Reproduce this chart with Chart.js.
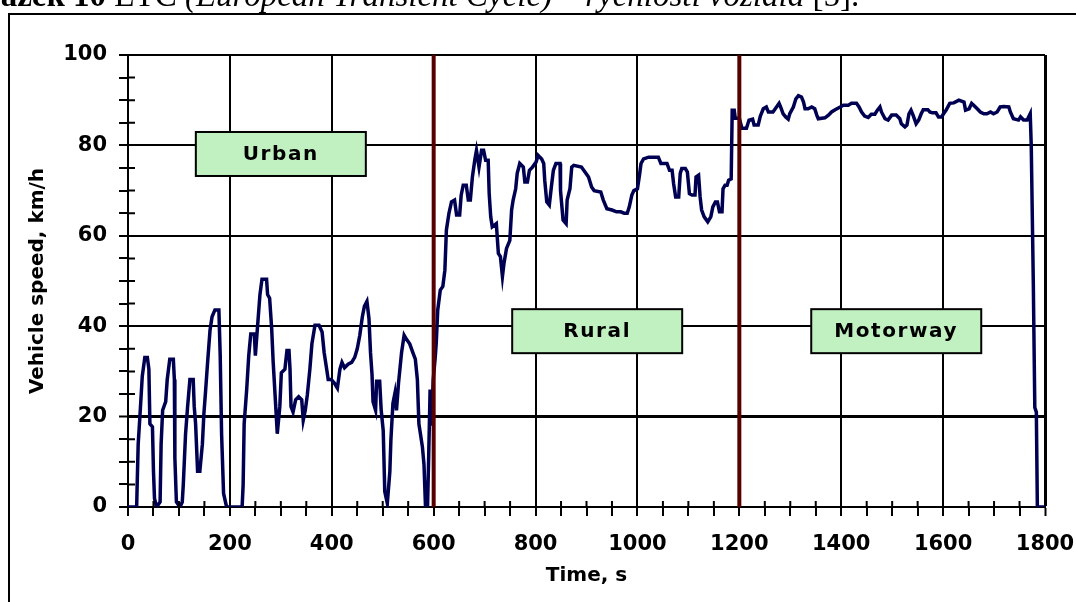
<!DOCTYPE html>
<html>
<head>
<meta charset="utf-8">
<title>ETC vehicle speed</title>
<script src="https://cdn.jsdelivr.net/npm/chart.js@4.4.1/dist/chart.umd.min.js"></script>
<style>
  html, body { margin: 0; padding: 0; background: #fff; overflow: hidden; }
  #wrap { position: relative; width: 1076px; height: 602px; overflow: hidden; }
  #speed-chart { position: absolute; left: 0; top: 0; }
  #frame {
    position: absolute; left: 8px; top: 13px; width: 1100px; height: 700px;
    border-left: 2px solid #000; border-top: 2px solid #000;
  }
  #caption {
    position: absolute; left: -58px; top: -21px; white-space: nowrap;
    font-family: "Liberation Serif", serif; font-size: 33px; line-height: 33px; color: #000;
  }
</style>
</head>
<body>
<div id="wrap">
  <canvas id="speed-chart" width="1076" height="602"></canvas>
  <div id="frame"></div>
  <div id="caption"><b>Obrázek 10</b> ETC <i>(European Transient Cycle)</i> – <i>rychlosti vozidla</i> [5].</div>
</div>
<script>
// time, s
const times = [
  0, 17, 18, 20, 23.5, 28, 33, 38, 41, 43, 48, 50, 52, 56, 63, 65, 68, 74, 77, 82,
  89, 91, 92, 95, 102, 106.5, 108.5, 113, 117, 121.5, 128, 130, 132.7, 136.6, 141, 146, 149, 152, 156, 161,
  165, 170.6, 178.4, 181, 183.7, 187.6, 193.5, 224, 226, 228, 233, 237, 241, 248, 250, 254, 259, 263, 272, 274,
  278, 282, 285, 290, 293, 298, 301, 308, 312, 316, 318, 320, 324, 329, 335, 341, 344, 348, 352, 357,
  361, 367, 375, 381, 385, 390, 393, 399, 405, 411, 416, 420, 425, 432, 439, 445, 450, 455, 460, 464,
  469, 473, 476, 479, 481, 486, 488, 494, 497, 501, 504, 509, 514, 516, 520, 524, 527, 531, 537, 542,
  546, 553, 559, 564, 568, 571, 574, 578, 581, 584, 588, 590, 593, 596, 599, 603, 605, 608, 613, 618,
  622, 625, 630, 635, 641, 645, 651, 654, 658, 664, 668, 672, 676, 681, 684, 689, 694, 698, 702, 707,
  709, 712, 715, 723, 727, 731, 735, 738, 743, 749.5, 753, 756, 761, 764, 769, 776, 779, 784, 788, 794,
  801, 805, 812, 816, 818, 822, 827, 831, 835, 840, 848, 849, 854, 860, 862, 867.5, 871, 875, 890, 897,
  904, 910, 915, 928, 933, 940, 950, 959, 967, 974, 980, 984, 989, 993, 1000, 1004, 1007, 1012, 1022, 1041,
  1046, 1058, 1063, 1068, 1071, 1075, 1081, 1084, 1087, 1094, 1098, 1102, 1107, 1113, 1115, 1120, 1123, 1126, 1131, 1138,
  1144, 1148, 1153, 1157, 1161, 1166, 1168, 1172, 1176, 1179, 1184, 1186, 1190, 1192, 1200, 1205, 1214, 1219, 1226, 1229,
  1237, 1241, 1247, 1253, 1257, 1266, 1273, 1278, 1281, 1286, 1291, 1296, 1299, 1306, 1311, 1316, 1322, 1326, 1329, 1335,
  1342, 1348, 1352, 1355, 1368, 1375, 1381, 1388, 1398, 1404, 1414, 1420, 1430, 1435, 1440, 1446, 1453, 1459, 1466, 1471,
  1476, 1479, 1486, 1492, 1499, 1508, 1515, 1518, 1525, 1529, 1533, 1537, 1541, 1547, 1552, 1557, 1561, 1570, 1574, 1579,
  1586, 1591, 1597, 1602, 1606, 1613, 1621, 1631, 1641, 1644, 1651, 1656, 1660, 1667, 1673, 1680, 1686, 1693, 1699, 1706,
  1712, 1719, 1729, 1732, 1738, 1748, 1752, 1758, 1765, 1771, 1773, 1777, 1780, 1783, 1785, 1800
];

// vehicle speed, km/h
const speeds = [
  0, 0, 4.9, 13.9, 20.3, 28.9, 33.1, 33.1, 30.5, 18.4, 17.7, 7.9, 1.9, 0, 1.1, 13.9, 21.4, 23.3, 28.2, 32.7,
  32.7, 28.2, 10.9, 1.1, 0, 1.1, 4.9, 16.2, 22.2, 28.2, 28.2, 22.2, 18.4, 7.9, 7.9, 13.9, 20.7, 25.2, 31.6, 39.1,
  42.1, 43.6, 43.6, 33.5, 16.2, 3, 0, 0, 4.9, 18.4, 26, 33.5, 38.3, 38.3, 33.5, 39.5, 47, 50.4, 50.4, 47,
  46.2, 39.5, 32, 22.2, 16.2, 22.2, 29.7, 30.5, 34.6, 34.6, 30.5, 22.2, 21, 23.7, 24.4, 23.7, 19.2, 21.4, 24.8, 30.5,
  36.1, 40.2, 40.2, 38.7, 34.2, 30.5, 28.2, 28.2, 27.4, 26.3, 30.5, 32, 30.8, 31.6, 32, 33.1, 35, 38, 42.1, 44.4,
  45.5, 41.7, 34.2, 29.3, 23.3, 21.4, 27.8, 27.8, 21.4, 16.9, 3.4, 0.8, 7.9, 14.7, 22.9, 25.2, 21.4, 27.4, 34.2, 38,
  37.2, 36.1, 34.2, 32.7, 28.2, 18.4, 16.2, 13.2, 9.4, 0, 0, 10, 26, 18, 28, 33, 36.2, 43.6, 48, 48.8,
  52.4, 61.3, 65, 67.5, 67.9, 64.6, 64.6, 69, 71.2, 71.2, 67.9, 67.9, 73, 77, 78.9, 75.2, 78.9, 78.9, 76.7, 76.7,
  69.3, 64.2, 62, 62.7, 56.1, 55.4, 51, 53.9, 57.2, 59, 65.7, 67.9, 70.4, 73.8, 76, 75.2, 71.9, 71.9, 74.5, 75.2,
  76.3, 77.8, 77, 76, 72.3, 67.5, 66.8, 70.8, 74.5, 76, 76, 70, 63.5, 62.7, 67.9, 70.4, 75.2, 75.6, 75.2, 74.1,
  73, 70.8, 70, 69.7, 67.9, 66, 65.7, 65.3, 65.3, 65, 65, 66.4, 69, 70, 70.4, 73.4, 76, 77, 77.4, 77.4,
  76, 76, 74.5, 74.5, 71.5, 68.6, 68.6, 73.8, 74.9, 74.9, 74.1, 69.3, 69, 69, 73, 73.4, 68.6, 65.7, 64.2, 63.1,
  64.2, 66.4, 67.5, 67.5, 65.3, 65.3, 70.4, 71.2, 71.2, 72.3, 72.6, 87.8, 87.8, 86, 86, 83.8, 83.8, 85.6, 85.8, 84.5,
  84.5, 86.4, 88.1, 88.5, 87.4, 87.4, 88.5, 89.3, 88.5, 87, 86.3, 85.8, 87, 88.5, 90.3, 91, 90.7, 89.6, 88.1, 88.1,
  88.5, 88.1, 86.7, 85.9, 86.1, 86.7, 87.4, 87.9, 88.5, 88.9, 88.9, 89.3, 89.3, 88.5, 87.4, 86.5, 86.2, 86.9, 86.9, 87.8,
  88.5, 87.4, 85.9, 85.6, 86.7, 86.7, 85.9, 84.8, 84.1, 84.5, 87, 87.8, 86.7, 84.8, 85.6, 87, 87.9, 87.9, 87.4, 87.2,
  87.2, 86.3, 86.3, 87.2, 87.8, 89.3, 89.4, 90, 89.6, 87.8, 88.1, 89.3, 88.9, 88.1, 87.4, 87, 87, 87.4, 87, 87.4,
  88.5, 88.6, 88.5, 87.4, 85.9, 85.6, 86.3, 85.6, 85.6, 87, 80, 50, 22, 21, 0, 0
];

const phaseBoundaries = [600, 1200];
const phaseNames = ["Urban", "Rural", "Motorway"];

// where the phase boxes sit, in axis units
const phaseBoxAnchors = [
  { x: 300, y: 78.1 },
  { x: 921, y: 38.9 },
  { x: 1508, y: 38.9 },
];

const tickFont = { family: "DejaVu Sans", size: 21, weight: "bold" };
const titleFont = { family: "DejaVu Sans", size: 20, weight: "bold" };

const overlayPlugin = {
  id: "overlay",
  afterDatasetsDraw(chart) {
    const { ctx, chartArea, scales } = chart;
    ctx.save();

    ctx.strokeStyle = "#560000";
    ctx.lineWidth = 4;
    for (const t of phaseBoundaries) {
      const px = scales.x.getPixelForValue(t);
      ctx.beginPath();
      ctx.moveTo(px, chartArea.top);
      ctx.lineTo(px, chartArea.bottom);
      ctx.stroke();
    }

    ctx.font = "bold 20px 'DejaVu Sans'";
    ctx.textAlign = "center";
    ctx.textBaseline = "middle";
    if ("letterSpacing" in ctx) ctx.letterSpacing = "1.6px";
    phaseNames.forEach((name, i) => {
      const cx = scales.x.getPixelForValue(phaseBoxAnchors[i].x);
      const cy = scales.y.getPixelForValue(phaseBoxAnchors[i].y);
      const w = 170;
      const h = 44;
      ctx.fillStyle = "#c1f0c1";
      ctx.fillRect(cx - w / 2, cy - h / 2, w, h);
      ctx.strokeStyle = "#000";
      ctx.lineWidth = 2;
      ctx.strokeRect(cx - w / 2, cy - h / 2, w, h);
      ctx.fillStyle = "#000";
      ctx.fillText(name, cx, cy + 1);
    });
    ctx.restore();
  },
  afterDraw(chart) {
    // minor ticks also poke a little into the plot
    const { ctx, chartArea, scales } = chart;
    ctx.save();
    ctx.strokeStyle = "#000";
    ctx.lineWidth = 2;
    ctx.beginPath();
    for (const tick of scales.y.ticks) {
      if (tick.value % 20 === 0) continue;
      const py = scales.y.getPixelForValue(tick.value);
      ctx.moveTo(chartArea.left, py);
      ctx.lineTo(chartArea.left + 7, py);
    }
    for (const tick of scales.x.ticks) {
      if (tick.value % 200 === 0) continue;
      const px = scales.x.getPixelForValue(tick.value);
      ctx.moveTo(px, chartArea.bottom);
      ctx.lineTo(px, chartArea.bottom - 6);
    }
    ctx.stroke();
    ctx.restore();
  },
};

function majorOrClear(step) {
  return (ctx) => (ctx.tick && ctx.tick.value % step === 0 ? "#000" : "rgba(0,0,0,0)");
}

new Chart(document.getElementById("speed-chart"), {
  type: "line",
  data: {
    datasets: [
      {
        data: times.map((t, i) => ({ x: t, y: speeds[i] })),
        borderColor: "#000052",
        borderWidth: 3.5,
        pointRadius: 0,
        tension: 0,
        fill: false,
      },
    ],
  },
  options: {
    responsive: false,
    animation: false,
    layout: { padding: { left: 26, top: 55, right: 31, bottom: 14 } },
    plugins: { legend: { display: false }, tooltip: { enabled: false } },
    scales: {
      x: {
        type: "linear",
        min: 0,
        max: 1800,
        ticks: {
          stepSize: 50,
          autoSkip: false,
          maxRotation: 0,
          padding: 16,
          color: "#000",
          font: tickFont,
          callback: (value) => (value % 200 === 0 ? value : ""),
        },
        grid: {
          color: majorOrClear(200),
          lineWidth: (ctx) => (ctx.tick && ctx.tick.value === 1800 ? 3 : 2),
          tickColor: "#000",
          tickWidth: 2,
          tickLength: 9,
        },
        border: { color: "#000", width: 2 },
        title: { display: true, text: "Time, s", color: "#000", font: titleFont, padding: 0 },
        afterFit: (scale) => {
          scale.height = 81;
          scale.paddingLeft = 0;
          scale.paddingRight = 0;
        },
      },
      y: {
        min: 0,
        max: 100,
        ticks: {
          stepSize: 5,
          autoSkip: false,
          padding: 12,
          color: "#000",
          font: tickFont,
          callback: (value) => (value % 20 === 0 ? value : ""),
        },
        grid: {
          color: majorOrClear(20),
          lineWidth: (ctx) => (ctx.tick && ctx.tick.value === 20 ? 3 : 2),
          tickColor: "#000",
          tickWidth: 2,
          tickLength: 9,
        },
        border: { color: "#000", width: 2 },
        title: { display: true, text: "Vehicle speed, km/h", color: "#000", font: titleFont, padding: 0 },
        afterFit: (scale) => {
          scale.width = 102;
        },
      },
    },
  },
  plugins: [overlayPlugin],
});
</script>
</body>
</html>
